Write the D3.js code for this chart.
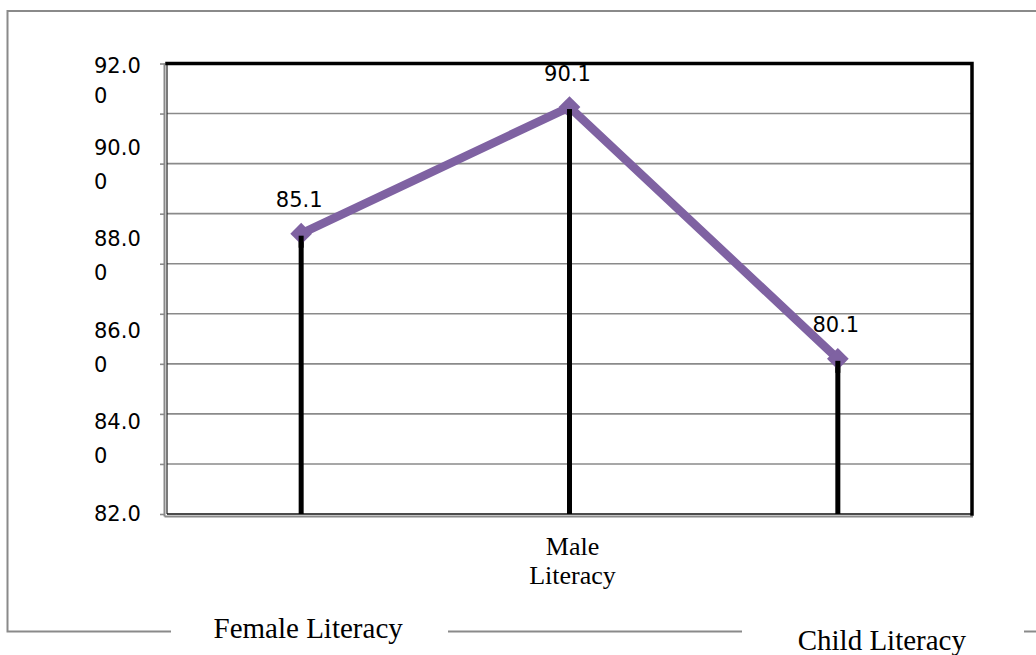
<!DOCTYPE html>
<html>
<head>
<meta charset="utf-8">
<script src="https://cdn.jsdelivr.net/npm/d3@7"></script>
<style>
  html, body { margin: 0; padding: 0; background: #fff; }
  svg { display: block; }
</style>
</head>
<body>
<svg id="chart" width="1036" height="655"></svg>
<script>
// ---- data ----
const categories = ["Female Literacy", "Male Literacy", "Child Literacy"];
const values = [87.6, 90.13, 85.1];
const dataLabels = ["85.1", "90.1", "80.1"];
const gridValues = [82, 83, 84, 85, 86, 87, 88, 89, 90, 91];
const yLabelValues = [92, 90, 88, 86, 84, 82];
const yLabelText = ["92.00", "90.00", "88.00", "86.00", "84.00", "82.0"];

// ---- layout ----
const svg = d3.select("#chart");
const plot = { left: 167, right: 972, top: 63.5, bottom: 514 };

const x = d3.scaleBand().domain(categories).range([plot.left, plot.right]);
const y = d3.scaleLinear().domain([82, 91]).range([plot.bottom, plot.top]);
// the wrapped axis labels sit on their own (uneven) positions
const yLab = d3.scaleLinear().domain([82, 90, 92]).range([521, 154.5, 73]);
const cx = c => x(c) + x.bandwidth() / 2;

const grey = "#8a8a8a";
const purple = "#7f62a2";

// outer chart frame
const frame = svg.append("g").attr("fill", "none").attr("stroke", grey).attr("stroke-width", 2);
frame.append("path").attr("d", "M1040,11 H7.5 V631.5 H171");
frame.append("path").attr("d", "M448,631.5 H742");
frame.append("path").attr("d", "M1024,631.5 H1040");

// gridlines
svg.append("g").selectAll("line").data(gridValues.slice(1, -1)).join("line")
  .attr("x1", plot.left).attr("x2", plot.right)
  .attr("y1", d => y(d)).attr("y2", d => y(d))
  .attr("stroke", grey).attr("stroke-width", 1.6);

// y axis ticks (left)
const yAxis = d3.axisLeft(y).tickValues(gridValues).tickSize(5).tickFormat("");
const gAx = svg.append("g").attr("transform", `translate(${plot.left - 2},0)`).call(yAxis);
gAx.select(".domain").remove();
gAx.selectAll(".tick line").attr("stroke", grey).attr("stroke-width", 1.6);

// plot border with shadow
svg.append("line").attr("x1", plot.left - 2.5).attr("x2", plot.left - 2.5)
  .attr("y1", plot.top).attr("y2", plot.bottom + 2.5).attr("stroke", grey).attr("stroke-width", 2);
svg.append("line").attr("x1", plot.left - 2.5).attr("x2", plot.right + 1)
  .attr("y1", plot.bottom + 2.5).attr("y2", plot.bottom + 2.5).attr("stroke", grey).attr("stroke-width", 2);
svg.append("line").attr("x1", plot.left).attr("x2", plot.left)
  .attr("y1", plot.top).attr("y2", plot.bottom).attr("stroke", "#222").attr("stroke-width", 1.2);
svg.append("line").attr("x1", plot.left).attr("x2", plot.right)
  .attr("y1", plot.bottom).attr("y2", plot.bottom).attr("stroke", "#111").attr("stroke-width", 1.6);
svg.append("path").attr("d", `M${plot.left},${plot.top} H${plot.right} V${plot.bottom}`)
  .attr("fill", "none").attr("stroke", "#000").attr("stroke-width", 3.5).attr("stroke-linecap", "square");

// y labels (wrapped)
const yl = svg.append("g").attr("font-family", "DejaVu Sans").attr("font-size", 21).attr("fill", "#000");
yLabelValues.forEach((v, i) => {
  const t = yLabelText[i];
  const tx = yl.append("text").attr("x", 94).attr("y", yLab(v));
  tx.append("tspan").attr("x", 94).text(t.slice(0, 4));
  if (t.length > 4) tx.append("tspan").attr("x", 94).attr("dy", i === 0 ? 29.5 : 34).text(t.slice(4));
});

// drop lines
svg.append("g").selectAll("line").data(categories).join("line")
  .attr("x1", d => cx(d)).attr("x2", d => cx(d))
  .attr("y1", (d, i) => y(values[i])).attr("y2", plot.bottom)
  .attr("stroke", "#000").attr("stroke-width", 5);

// series line
const line = d3.line().x((d, i) => cx(categories[i])).y(d => y(d));
svg.append("path").datum(values).attr("d", line)
  .attr("fill", "none").attr("stroke", purple).attr("stroke-width", 8.5).attr("stroke-linejoin", "round");

// markers (diamonds)
svg.append("g").selectAll("path").data(values).join("path")
  .attr("transform", (d, i) => `translate(${cx(categories[i])},${y(d)})`)
  .attr("d", d3.symbol(d3.symbolDiamond2, 300)())
  .attr("fill", purple);

// drop-line tops drawn over markers
svg.append("g").selectAll("line").data(categories).join("line")
  .attr("x1", d => cx(d)).attr("x2", d => cx(d))
  .attr("y1", (d, i) => y(values[i]) + 2).attr("y2", (d, i) => y(values[i]) + 14)
  .attr("stroke", "#000").attr("stroke-width", 5);

// data labels
svg.append("g").selectAll("text").data(dataLabels).join("text")
  .attr("x", (d, i) => cx(categories[i]) - 2)
  .attr("y", (d, i) => y(values[i]) - 26.5)
  .attr("text-anchor", "middle").attr("font-family", "DejaVu Sans").attr("font-size", 21)
  .text(d => d);

// category labels (placed as in the original wrapped/staggered layout)
const catLayout = [
  { dx: 7, y: 637.5, size: 29, lines: 1 },
  { dx: 3, y: 555, size: 26, lines: 2 },
  { dx: 44, y: 650, size: 29, lines: 1 }
];
const cl = svg.append("g").attr("font-family", "Liberation Serif").attr("fill", "#000").attr("text-anchor", "middle");
categories.forEach((c, i) => {
  const L = catLayout[i];
  const t = cl.append("text").attr("x", cx(c) + L.dx).attr("y", L.y).attr("font-size", L.size);
  if (L.lines === 2) {
    const parts = c.split(" ");
    t.append("tspan").attr("x", cx(c) + L.dx).text(parts[0]);
    t.append("tspan").attr("x", cx(c) + L.dx).attr("dy", 29).text(parts[1]);
  } else {
    t.text(c);
  }
});
</script>
</body>
</html>
